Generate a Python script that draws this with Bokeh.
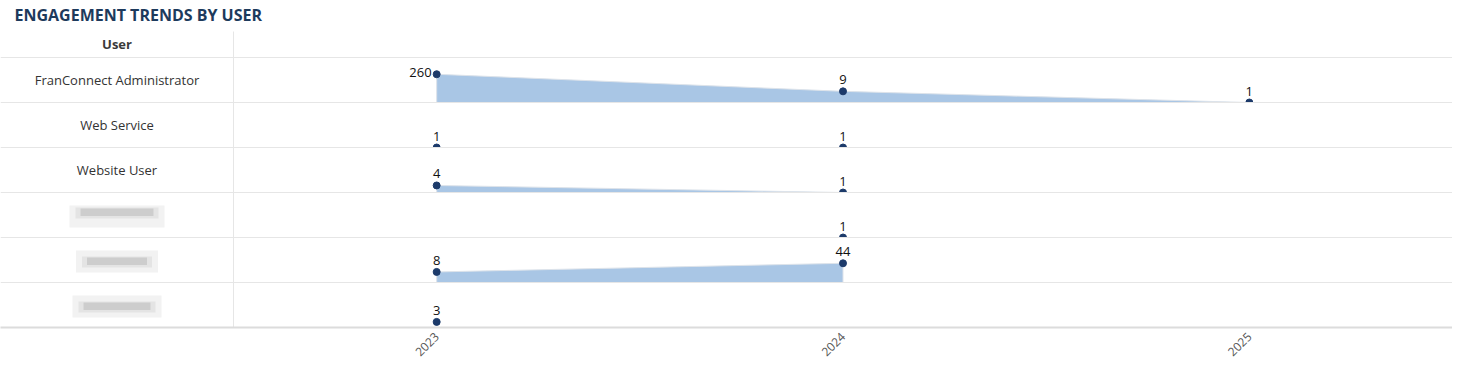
import math
from bokeh.plotting import figure
from bokeh.models import Range1d, LogScale, Span, Label, FixedTicker
from bokeh.core.properties import value
from bokeh.embed import file_html
from bokeh.resources import INLINE

# ---------------- data ----------------
title = "ENGAGEMENT TRENDS BY USER"
column_header = "User"
years = [2023, 2024, 2025]
year_labels = ["2023", "2024", "2025"]
users = ["FranConnect Administrator", "Web Service", "Website User", "", "", ""]
redacted = [False, False, False, True, True, True]   # names hidden (blurred) in the source
counts_2023 = [260, 1, 4, None, 8, 3]
counts_2024 = [9, 1, 1, 1, 44, None]
counts_2025 = [1, None, None, None, None, None]

# ---------------- layout / style ----------------
W, H = 1452, 363
FRAME_H = 327
ROW_H = 45
HEADER_H = 26
LEFT_W = 233
PX_PER_DECADE = 11.7
FONT = "Open Sans"
AREA = "#a9c6e5"
AREA_EDGE = "#dde3ea"
DOT = "#1c3a6a"
GRID = "#e6e6e6"

n_rows = len(users)
px_per_year = (W - LEFT_W) / len(years)
x_div = years[0] - 0.5
x_end = years[-1] + 0.5
x0 = x_div - LEFT_W / px_per_year
x_col = (x0 + x_div) / 2

p = figure(width=W, height=H, x_range=Range1d(x0, x_end), y_range=Range1d(0, FRAME_H),
           output_backend="svg", toolbar_location=None, y_axis_location=None,
           min_border_left=0, min_border_right=0, min_border_top=0, min_border_bottom=10,
           outline_line_color=None, background_fill_color="white", border_fill_color="white")
p.grid.visible = False

ax = p.xaxis[0]
ax.ticker = FixedTicker(ticks=years)
ax.major_label_overrides = {y: l for y, l in zip(years, year_labels)}
ax.major_label_orientation = math.pi / 4
ax.major_tick_line_color = None
ax.major_tick_out = 0
ax.major_tick_in = 0
ax.minor_tick_line_color = None
ax.minor_tick_out = 0
ax.axis_label_standoff = 0
ax.axis_line_color = "#dcdcdc"
ax.axis_line_width = 2
ax.major_label_text_font = FONT
ax.major_label_text_font_size = "12px"
ax.major_label_text_line_height = 1.0
ax.major_label_text_color = "#555555"
ax.major_label_standoff = 7

series = list(zip(counts_2023, counts_2024, counts_2025))

extra_ranges, extra_scales = {}, {}
for i in range(n_rows):
    b = (n_rows - 1 - i) * ROW_H
    extra_ranges[f"r{i}"] = Range1d(10 ** (-b / PX_PER_DECADE), 10 ** ((FRAME_H - b) / PX_PER_DECADE))
    extra_scales[f"r{i}"] = LogScale()
p.extra_y_ranges = extra_ranges
p.extra_y_scales = extra_scales

for i in range(n_rows):
    rn = f"r{i}"
    b = (n_rows - 1 - i) * ROW_H
    if i > 0:
        # row background (clips markers of the row above at the row line)
        p.quad(left=x_div, right=x_end, bottom=b, top=b + ROW_H,
               fill_color="white", line_color=None)
    vals = series[i]
    # areas between consecutive present points
    run_x, run_y = [], []
    runs = []
    for yr, v in zip(years, vals):
        if v is None:
            if len(run_x) > 1:
                runs.append((run_x, run_y))
            run_x, run_y = [], []
        else:
            run_x.append(yr)
            run_y.append(v)
    if len(run_x) > 1:
        runs.append((run_x, run_y))
    for rx, ry in runs:
        p.varea(x=rx, y1=[1] * len(rx), y2=ry, y_range_name=rn,
                fill_color=AREA, fill_alpha=1.0)
        p.line(x=[rx[0]] + rx + [rx[-1]], y=[1] + ry + [1], y_range_name=rn,
               line_color=AREA_EDGE, line_width=1)
    px = [yr for yr, v in zip(years, vals) if v is not None]
    py = [v for v in vals if v is not None]
    p.scatter(x=px, y=py, size=7, fill_color=DOT, line_color=DOT, y_range_name=rn)
    above_x, above_y, left_x, left_y = [], [], [], []
    for xx, v in zip(px, py):
        h = PX_PER_DECADE * math.log10(v)
        if h + 22 > ROW_H:
            left_x.append(xx); left_y.append(v)
        else:
            above_x.append(xx); above_y.append(v)
    if above_x:
        p.text(x=above_x, y=above_y, text=[str(v) for v in above_y], y_range_name=rn,
               text_align="center", text_baseline="bottom", y_offset=-7,
               text_font=value(FONT), text_font_size="13px", text_color="#111111")
    if left_x:
        p.text(x=left_x, y=left_y, text=[str(v) for v in left_y], y_range_name=rn,
               text_align="right", text_baseline="middle", x_offset=-5, y_offset=-2,
               text_font=value(FONT), text_font_size="13px", text_color="#111111")

# table column: names
name_x = [x_col for u, r in zip(users, redacted) if not r]
name_y = [(n_rows - 1 - i) * ROW_H + ROW_H / 2 for i, r in enumerate(redacted) if not r]
p.text(x=name_x, y=name_y, text=[u for u, r in zip(users, redacted) if not r],
       text_align="center", text_baseline="middle",
       text_font=value(FONT), text_font_size="13px", text_color="#333333")

# blurred placeholders for hidden names
blur_w = [95, 82, 89]
blur_shift = [4, 0, 0]
k = 0
for i, r in enumerate(redacted):
    if not r:
        continue
    cy = (n_rows - 1 - i) * ROW_H + ROW_H / 2 - 1.5
    hw = blur_w[k] / 2 / px_per_year
    p.quad(left=x_col - hw, right=x_col + hw, bottom=cy - 11, top=cy + 11,
           fill_color="#f2f2f2", line_color=None)
    hw2 = (blur_w[k] - 12) / 2 / px_per_year
    p.quad(left=x_col - hw2, right=x_col + hw2, bottom=cy - 6 + blur_shift[k], top=cy + 5 + blur_shift[k],
           fill_color="#e4e4e4", line_color=None)
    hw3 = (blur_w[k] - 22) / 2 / px_per_year
    p.quad(left=x_col - hw3, right=x_col + hw3, bottom=cy - 3.5 + blur_shift[k], top=cy + 4 + blur_shift[k],
           fill_color="#cdcdcd", line_color=None)
    k += 1

# header
header_y = n_rows * ROW_H + HEADER_H / 2
p.text(x=[x_col], y=[header_y + 1], text=[column_header], text_align="center", text_baseline="middle",
       text_font=value(FONT), text_font_size="13px", text_font_style="bold", text_color="#3a3a3a")

# vertical divider
p.segment(x0=[x_div], y0=[0], x1=[x_div], y1=[n_rows * ROW_H + HEADER_H], line_color=GRID, line_width=1)

# row lines
for j in range(1, n_rows + 1):
    p.add_layout(Span(location=j * ROW_H, dimension="width", line_color=GRID, line_width=1))

# title
p.add_layout(Label(x=14, x_units="screen", y=FRAME_H - 14, text=title, text_font=FONT,
                   text_font_size="16px", text_font_style="bold", text_color="#1d3a5c",
                   text_baseline="middle"))

open("out.html", "w").write(file_html(p, INLINE))
